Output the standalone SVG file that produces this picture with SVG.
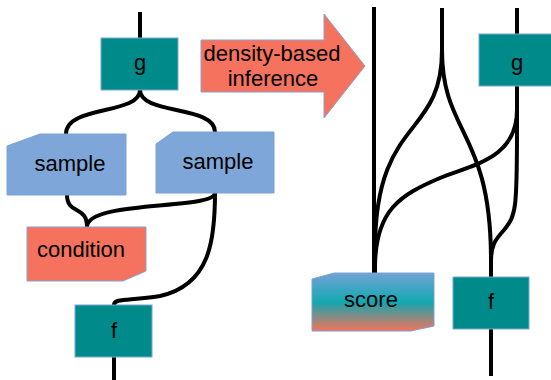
<svg xmlns="http://www.w3.org/2000/svg" width="551" height="380" viewBox="0 0 551 380">
<defs>
<linearGradient id="scoreGrad" x1="0" y1="0" x2="0" y2="1">
<stop offset="0" stop-color="#72a2d6"/>
<stop offset="0.5" stop-color="#14a9b2"/>
<stop offset="0.52" stop-color="#1aa3ab"/>
<stop offset="1" stop-color="#f5735c"/>
</linearGradient>
</defs>
<style>
.fn{fill:#008a8a;stroke:#7aa6d6;stroke-width:1}
.smp{fill:#7ea6d8;stroke:#7aa2d4;stroke-width:1}
.sal{fill:#f5735e;stroke:#8aa0cc;stroke-width:1}
.scr{fill:url(#scoreGrad);stroke:#7aa2d4;stroke-width:1}
.lbl{font-family:"Liberation Sans",Arial,sans-serif;font-size:22px;fill:#000;text-anchor:middle}
.wire{fill:none;stroke:#000;stroke-width:4;stroke-linecap:butt}
</style>
<g id="connectors">
<path class="wire" d="M140,12 L140,38"/>
<path class="wire" d="M140,90 C140,115 66,105 66,134"/>
<path class="wire" d="M140,90 C140,115 215,105 215,132"/>
<path class="wire" d="M67,195 C67,215 87,205 87,227"/>
<path class="wire" d="M215,193 C215,210 87,200 87,227"/>
<path class="wire" d="M215,193 C215,240 210,285 160,296 C128,301 114,298 114,305"/>
<path class="wire" d="M114,357 L114,380"/>
<path class="wire" d="M374,7 L374,273"/>
<path class="wire" d="M442,8 L442,50 C442,140 375,115 375,250 L375,273"/>
<path class="wire" d="M442,8 L442,50 C442,135 491,130 491,260 L491,277"/>
<path class="wire" d="M517,8 L517,34"/>
<path class="wire" d="M517,86 L517,110 C517,160 470,165 440,178 C400,195 376,210 375,265"/>
<path class="wire" d="M517,86 L517,130 C517,210 516,215 504,230 C495,240 491,245 491,262"/>
<path class="wire" d="M491,329 L491,376"/>
</g>
<g id="g-left">
<rect class="fn" x="101" y="38" width="77" height="52"/>
<text class="lbl" x="140" y="70">g</text>
</g>
<g id="sample-left">
<polygon class="smp" points="7,146 40,134 126,134 126,195 7,195"/>
<text class="lbl" x="70" y="171">sample</text>
</g>
<g id="sample-right">
<polygon class="smp" points="156,144 173,132 274,132 274,193 156,193"/>
<text class="lbl" x="218" y="169">sample</text>
</g>
<g id="condition">
<polygon class="sal" points="27,227 146,227 146,271 123,281 27,281"/>
<text class="lbl" x="81" y="257">condition</text>
</g>
<g id="f-left">
<rect class="fn" x="75" y="305" width="77" height="52"/>
<text class="lbl" x="114" y="338">f</text>
</g>
<g id="arrow">
<polygon class="sal" points="201,40 324,40 324,14 365,66 324,118 324,92 201,92"/>
<text class="lbl" x="272" y="61">density-based</text>
<text class="lbl" x="273" y="86">inference</text>
</g>
<g id="g-right">
<rect class="fn" x="479" y="34" width="77" height="52"/>
<text class="lbl" x="517" y="70">g</text>
</g>
<g id="score">
<polygon class="scr" points="312,279 334,273 434,273 434,326 411,331 312,331"/>
<text class="lbl" x="371" y="307">score</text>
</g>
<g id="f-right">
<rect class="fn" x="453" y="277" width="76" height="52"/>
<text class="lbl" x="491" y="309">f</text>
</g>
</svg>
